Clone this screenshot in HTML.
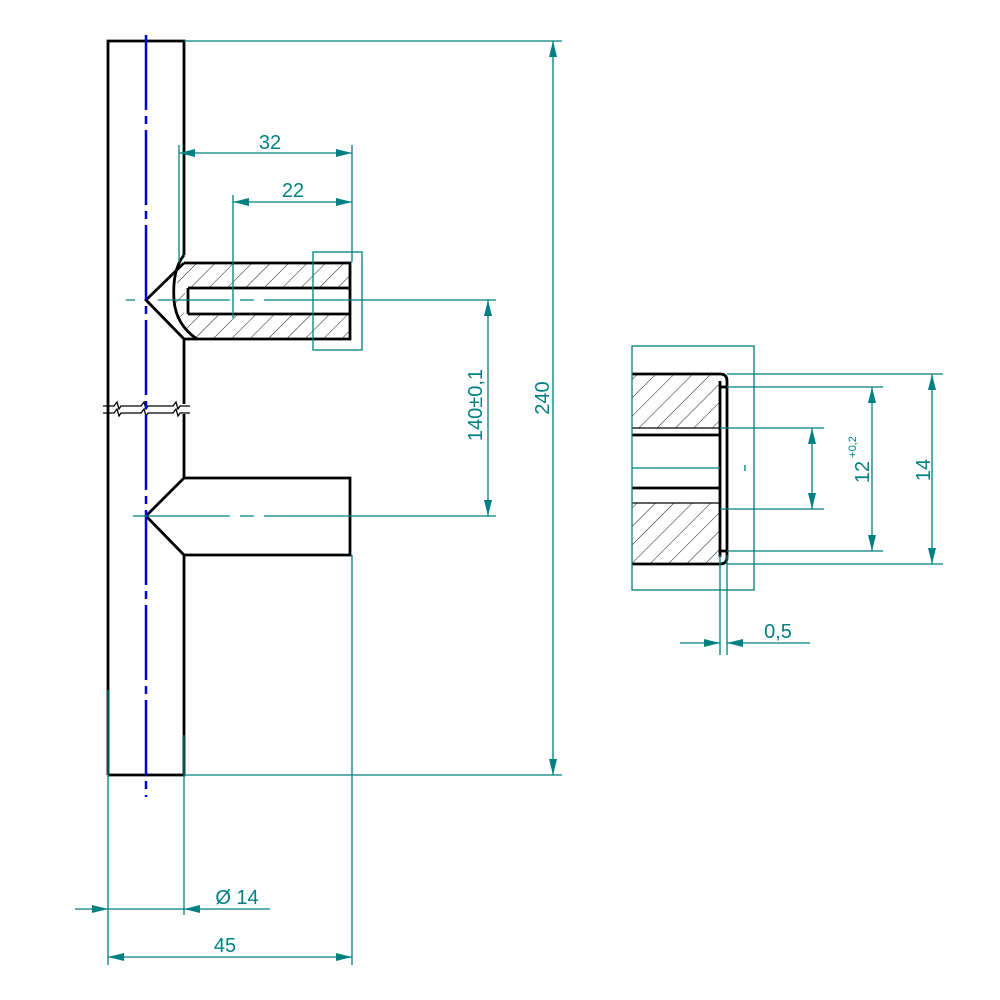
<!DOCTYPE html>
<html><head><meta charset="utf-8"><style>html,body{margin:0;padding:0;background:#fff}svg{display:block}</style></head>
<body>
<svg width="1000" height="1000" viewBox="0 0 1000 1000" xmlns="http://www.w3.org/2000/svg">
<defs>
<pattern id="h" patternUnits="userSpaceOnUse" width="13" height="13" patternTransform="rotate(45)">
<line x1="0" y1="0" x2="0" y2="13" stroke="#000" stroke-width="0.9"/>
</pattern>
<marker id="a" viewBox="0 0 16 8" refX="16" refY="4" markerWidth="16" markerHeight="8" markerUnits="userSpaceOnUse" orient="auto-start-reverse">
<path d="M0,0 L16,4 L0,8 Z" fill="#008080"/>
</marker>
</defs>
<g font-family="Liberation Sans, sans-serif" font-size="20" fill="#008080">

<path d="M184,263 L350,263 L350,288 L188,288 Q182,295 184,314 L350,314 L350,339 L197,339 Q176,320 176,300 Q176,275 184,263 Z" fill="url(#h)"/>
<rect x="632" y="374" width="88" height="54" fill="url(#h)"/>
<rect x="632" y="503" width="88" height="61" fill="url(#h)"/>

<g stroke="#000" stroke-width="2.8" fill="none">
<path d="M108,775 L108,41 L184,41 L184,255"/>
<path d="M184,339 L184,404 M184,414 L184,478 M184,555 L184,775 L108,775"/>
<path d="M184,263 L350,263 L350,339 L184,339 M184,263 L146,300 L184,339"/>
<path d="M184,255 Q172,270 174,300 Q176,325 197,339"/>
<path d="M188,288 L350,288 M188,314 L350,314 M188,288 L188,314"/>
<path d="M184,478 L350,478 L350,555 L184,555 M184,478 L146,516 L184,555"/>
<path d="M632,374 L720,374 Q727,374 727,381 L727,557 Q727,564 720,564 L632,564"/>
<path d="M632,435 L720,435 M632,488 L720,488 M720,381 L720,557 M720,387 L727,387 M720,551 L727,551"/>
</g>
<g stroke="#000" stroke-width="1.3" fill="none">
<path d="M103,406 L114,406 L117,402 L119,409 L121,406 L141,406 L144,402 L146,409 L148,406 L173,406 L176,402 L178,409 L180,406 L190,406"/>
<path d="M103,413 L114,413 L117,409 L119,416 L121,413 L141,413 L144,409 L146,416 L148,413 L173,413 L176,409 L178,416 L180,413 L190,413"/>
<path d="M632,428 L720,428 M632,503 L720,503"/>
</g>

<line x1="146" y1="35" x2="146" y2="797" stroke="#0000dd" stroke-width="2.5" stroke-dasharray="75,6,8,6"/>

<g stroke="#008080" stroke-width="1.3" fill="none">
<path d="M184,41 L562,41 M184,775 L562,775"/>
<line x1="553" y1="41" x2="553" y2="775" marker-start="url(#a)" marker-end="url(#a)"/>
<path d="M179,145 L179,262 M352,145 L352,262 M233,195 L233,318"/>
<line x1="179" y1="153" x2="352" y2="153" marker-start="url(#a)" marker-end="url(#a)"/>
<line x1="233" y1="202" x2="352" y2="202" marker-start="url(#a)" marker-end="url(#a)"/>
<rect x="313" y="252" width="49" height="98"/>
<path d="M126,300 L135,300 M158,300 L230,300 M240,300 L254,300 M264,300 L496,300"/>
<path d="M133,516 L230,516 M240,516 L254,516 M264,516 L496,516"/>
<line x1="488" y1="300" x2="488" y2="516" marker-start="url(#a)" marker-end="url(#a)"/>
<path d="M108,690 L108,965 M184,735 L184,915 M352,555 L352,965"/>
<line x1="75" y1="909" x2="108" y2="909" marker-end="url(#a)"/>
<line x1="270" y1="909" x2="184" y2="909" marker-end="url(#a)"/>
<line x1="108" y1="909" x2="184" y2="909"/>
<line x1="108" y1="957" x2="352" y2="957" marker-start="url(#a)" marker-end="url(#a)"/>

<rect x="632" y="346" width="122" height="244"/>
<path d="M727,374 L943,374 M727,564 L943,564 M727,387 L883,387 M727,551 L883,551 M720,428 L824,428 M720,509 L824,509 M632,468 L720,468 M745,465 L745,471"/>
<line x1="932" y1="374" x2="932" y2="564" marker-start="url(#a)" marker-end="url(#a)"/>
<line x1="872" y1="387" x2="872" y2="551" marker-start="url(#a)" marker-end="url(#a)"/>
<line x1="812" y1="428" x2="812" y2="509" marker-start="url(#a)" marker-end="url(#a)"/>
<path d="M720,555 L720,655 M727,555 L727,655"/>
<line x1="680" y1="643" x2="720" y2="643" marker-end="url(#a)"/>
<line x1="810" y1="643" x2="727" y2="643" marker-end="url(#a)"/>
</g>

<g stroke="none">
<text x="270" y="149" text-anchor="middle">32</text>
<text x="293" y="197" text-anchor="middle">22</text>
<text transform="translate(482,405) rotate(-90)" text-anchor="middle">140±0,1</text>
<text transform="translate(549,398) rotate(-90)" text-anchor="middle">240</text>
<text x="237" y="904" text-anchor="middle">Ø 14</text>
<text x="225" y="952" text-anchor="middle">45</text>
<text x="778" y="638" text-anchor="middle">0,5</text>
<text transform="translate(930,470) rotate(-90)" text-anchor="middle">14</text>
<text transform="translate(869,472) rotate(-90)" text-anchor="middle">12</text>
<text transform="translate(856,447) rotate(-90)" text-anchor="middle" font-size="11">+0,2</text>
</g>
</g>
</svg>
</body></html>
